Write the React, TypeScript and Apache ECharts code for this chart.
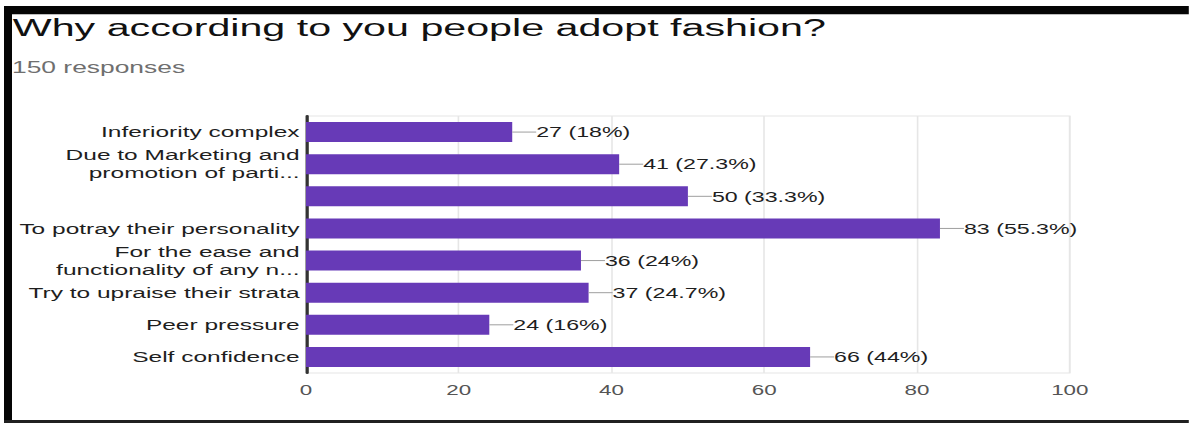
import React, { useEffect, useRef } from "react";
import * as echarts from "echarts";

const TITLE = "Why according to you people adopt fashion?";
const SUBTITLE = "150 responses";
const TOTAL = 150;
const categories = [
  "Inferiority complex",
  "Due to Marketing and\npromotion of parti...",
  "",
  "To potray their personality",
  "For the ease and\nfunctionality of any n...",
  "Try to upraise their strata",
  "Peer pressure",
  "Self confidence",
];
const values = [27, 41, 50, 83, 36, 37, 24, 66];
const xTicks = [0, 20, 40, 60, 80, 100];

const W = 1189;
const H = 423;
const SX = 1.6;
const IW = W / SX;
const FONT = "'Liberation Sans', Arial, sans-serif";

export default function App() {
  const ref = useRef<HTMLDivElement>(null);
  useEffect(() => {
    if (!ref.current) return;
    const chart = echarts.init(ref.current, null, { renderer: "svg" });
    const fmtPct = (v: number) => {
      const p = Math.round((v / TOTAL) * 1000) / 10;
      return `${v} (${p}%)`;
    };
    chart.setOption({
      animation: false,
      backgroundColor: "#ffffff",
      textStyle: { fontFamily: FONT },
      grid: {
        left: 306 / SX,
        right: IW - 1070 / SX,
        top: 116,
        bottom: H - 373,
        containLabel: false,
        show: true,
        borderColor: "#e6e6e6",
        borderWidth: 1,
      },
      xAxis: {
        type: "value",
        min: xTicks[0],
        max: xTicks[xTicks.length - 1],
        interval: xTicks[1] - xTicks[0],
        axisLine: { show: false },
        axisTick: { show: false },
        splitLine: { show: true, lineStyle: { color: "#e6e6e6", width: 1 } },
        axisLabel: { color: "#555555", fontSize: 14, margin: 10, fontFamily: FONT },
      },
      yAxis: {
        type: "category",
        inverse: true,
        data: categories,
        axisLine: { show: true, lineStyle: { color: "#333333", width: 2 } },
        axisTick: { show: false },
        splitLine: { show: false },
        axisLabel: {
          color: "#1e1e1e",
          fontSize: 15.3,
          lineHeight: 18,
          margin: 4,
          fontFamily: FONT,
        },
      },
      series: [
        {
          type: "bar",
          data: values,
          barWidth: 20,
          itemStyle: { color: "#673ab7" },
          label: {
            show: true,
            position: "right",
            distance: 0,
            formatter: (p: any) => `{l| }{t|${fmtPct(p.value)}}`,
            rich: {
              l: { width: 15, height: 1, backgroundColor: "#9e9e9e" },
              t: { fontSize: 14.5, color: "#1e1e1e", fontFamily: FONT },
            },
          },
        },
      ],
      graphic: [
        { type: "rect", shape: { x: 2.5, y: 6, width: IW, height: 8 }, style: { fill: "#050505" } },
        { type: "rect", shape: { x: 2.5, y: 14, width: IW, height: 1 }, style: { fill: "#bdbdbd" } },
        { type: "rect", shape: { x: 2.5, y: 6, width: 5, height: H - 6 }, style: { fill: "#050505" } },
        { type: "rect", shape: { x: 2.5, y: 420, width: IW, height: 3 }, style: { fill: "#202020" } },
        {
          type: "text",
          x: 8,
          y: 28.5,
          scaleX: 1.12,
          style: {
            text: TITLE,
            x: 0,
            y: 0,
            font: `23px ${FONT}`,
            fill: "#111111",
            verticalAlign: "middle",
          },
        },
        {
          type: "text",
          x: 7.5,
          y: 67,
          style: {
            text: SUBTITLE,
            x: 0,
            y: 0,
            font: `16.5px ${FONT}`,
            fill: "#6f6f6f",
            verticalAlign: "middle",
          },
        },
      ],
    });
    return () => chart.dispose();
  }, []);
  return (
    <div
      style={{
        position: "absolute",
        left: 0,
        top: 0,
        width: W,
        height: H,
        overflow: "hidden",
        background: "#ffffff",
      }}
    >
      <div
        ref={ref}
        style={{
          width: IW,
          height: H,
          transform: `scale(${SX}, 1)`,
          transformOrigin: "0 0",
        }}
      />
    </div>
  );
}
